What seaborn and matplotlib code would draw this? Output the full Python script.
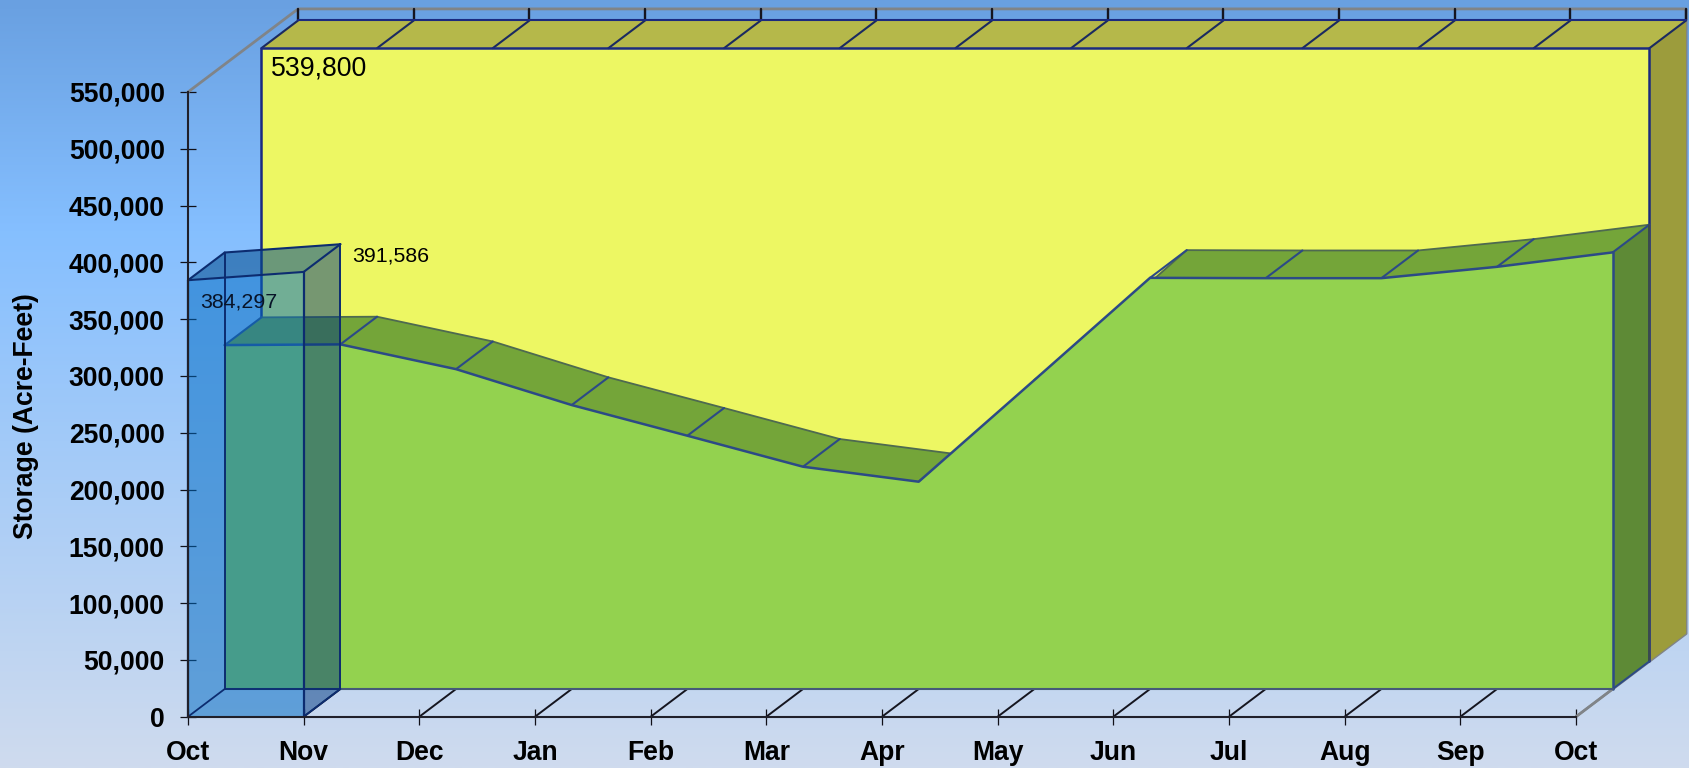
import numpy as np
import matplotlib
matplotlib.use("Agg")
import matplotlib.pyplot as plt
import seaborn as sns

months = ["Oct", "Nov", "Dec", "Jan", "Feb", "Mar", "Apr", "May", "Jun", "Jul", "Aug", "Sep", "Oct"]
storage_curve = [302800, 303400, 281600, 250000, 223000, 195700, 182500, 272000, 362000, 361700, 361700, 371700, 384400]
capacity = [539800] * 13
actual_months = [0, 1]
actual_storage = [384297, 391586]
y_ticks = [0, 50000, 100000, 150000, 200000, 250000, 300000, 350000, 400000, 450000, 500000, 550000]
y_title = "Storage (Acre-Feet)"

W, H = 1690, 768
L, R, B, T = 188.0, 1576.0, 716.7, 92.0
DX = 36.7 / ((R - L) / 12)
DY = 27.7 / ((B - T) / 550000)

sns.set_theme(style="white")
plt.rcParams["font.family"] = ["Liberation Sans", "DejaVu Sans"]

fig = plt.figure(figsize=(W / 100, H / 100), dpi=100)

# gradient backdrop
bg = fig.add_axes([0, 0, 1, 1], zorder=0)
t = np.linspace(0, 1, 256)
stops = [0, 0.3, 1]
grad = np.stack([np.interp(t, stops, [105, 133, 207]),
                 np.interp(t, stops, [160, 191, 219]),
                 np.interp(t, stops, [225, 255, 238])], axis=1)[:, None, :] / 255
bg.imshow(grad, aspect="auto", extent=[0, 1, 0, 1], origin="upper")
bg.axis("off")

ax = fig.add_axes([L / W, 1 - B / H, (R - L) / W, (B - T) / H], zorder=1)
ax.patch.set_alpha(0)

idx = np.arange(len(months), dtype=float)
green = np.array(storage_curve, dtype=float)
cap = np.array(capacity, dtype=float)
top = y_ticks[-1]
NAVY = "#1B2A80"
GLINE = "#2C4A86"
GRAY = "#808488"


def line(xs, ys, color, lw, z=3, alpha=1.0):
    sns.lineplot(x=np.asarray(xs, float), y=np.asarray(ys, float), ax=ax, color=color, linewidth=lw,
                 estimator=None, sort=False, legend=False, clip_on=False, zorder=z, alpha=alpha,
                 solid_capstyle="round", solid_joinstyle="round", errorbar=None)


def face(xs, ys, color, z, alpha=1.0):
    ax.fill(xs, ys, facecolor=color, edgecolor="none", alpha=alpha, zorder=z, clip_on=False)


n = idx[-1]

# outer frame of the 3D box
line([0, 3 * DX, n + 3 * DX, n + 3 * DX, n], [top, top + 3 * DY, top + 3 * DY, 3 * DY, 0], GRAY, 2.0, z=1.5)
for i in idx:
    line([i + 3 * DX] * 2, [cap[0] + 3 * DY, top + 3 * DY], "#15151F", 1.7, z=1.6)

# capacity block (yellow)
face([0 + 2 * DX, n + 2 * DX, n + 3 * DX, 0 + 3 * DX],
     [cap[0] + 2 * DY, cap[0] + 2 * DY, cap[0] + 3 * DY, cap[0] + 3 * DY], "#B5B84A", 1.7)
face([n + 2 * DX, n + 3 * DX, n + 3 * DX, n + 2 * DX],
     [cap[0] + 2 * DY, cap[0] + 3 * DY, 3 * DY, 2 * DY], "#9C9C3C", 1.7)
ax.fill_between(idx + 2 * DX, 2 * DY, cap + 2 * DY, color="#EDF763", lw=0, zorder=1.8, clip_on=False)
for i in idx:
    line([i + 2 * DX, i + 3 * DX], [cap[0] + 2 * DY, cap[0] + 3 * DY], "#1B2A60", 1.5, z=1.9)
line([3 * DX, n + 3 * DX], [cap[0] + 3 * DY, cap[0] + 3 * DY], NAVY, 1.5, z=1.9)
line([2 * DX, 2 * DX, n + 2 * DX, n + 2 * DX], [green[0] + 2 * DY, cap[0] + 2 * DY, cap[0] + 2 * DY, 2 * DY],
     NAVY, 1.8, z=1.9)

# storage curve block (green); the front face hides the band where the curve climbs steeply
face(np.r_[idx + DX, (idx + 2 * DX)[::-1]], np.r_[green + DY, (green + 2 * DY)[::-1]], "#74A539", 2.0)
face([n + DX, n + 2 * DX, n + 2 * DX, n + DX], [green[-1] + DY, green[-1] + 2 * DY, 2 * DY, DY], "#5E8A36", 2.0)
for i in idx:
    line([i + DX, i + 2 * DX], [green[int(i)] + DY, green[int(i)] + 2 * DY], GLINE, 1.5, z=2.02)
line(idx + 2 * DX, green + 2 * DY, "#4E6A50", 1.3, z=2.01)
ax.fill_between(idx + DX, DY, green + DY, color="#93D24F", lw=0, zorder=2.1, clip_on=False)
line(idx + DX, green + DY, GLINE, 1.8, z=2.3)
line([n + DX, n + DX], [DY, green[-1] + DY], GLINE, 1.8, z=2.3)
line([n + 2 * DX, n + 2 * DX], [2 * DY, green[-1] + 2 * DY], "#3A4A50", 1.4, z=2.3)
line([n + DX, n + 2 * DX], [DY, 2 * DY], GLINE, 1.4, z=2.3)
line([DX, n + DX], [DY, DY], "#455A78", 1.5, z=2.3)

# floor dividers
for i in idx[1:-1]:
    line([i, i + DX], [0, DY], "#15151F", 1.4, z=2.0)
line([n, n + DX], [0, DY], GRAY, 1.6, z=2.0)

# actual storage block (blue, translucent)
a_x = np.array(actual_months, float)
a_y = np.array(actual_storage, float)
face(np.r_[a_x, (a_x + DX)[::-1]], np.r_[a_y, (a_y + DY)[::-1]], (0, 75 / 255, 140 / 255), 4.0, alpha=0.55)
face([a_x[1], a_x[1] + DX, a_x[1] + DX, a_x[1]], [a_y[1], a_y[1] + DY, DY, 0], (0, 56 / 255, 128 / 255), 4.0, alpha=0.5)
ax.fill_between(a_x, 0, a_y, color=(0, 107 / 255, 196 / 255), alpha=0.52, lw=0, zorder=4.0, clip_on=False)
BL = "#0C2C70"
for k in (0, 1):
    line([a_x[k], a_x[k] + DX], [a_y[k], a_y[k] + DY], BL, 1.5, z=4.2)
    line([a_x[k], a_x[k] + DX], [0, DY], BL, 1.3, z=4.2)
    line([a_x[k], a_x[k]], [0, a_y[k]], BL, 1.6, z=4.2)
    line([a_x[k] + DX, a_x[k] + DX], [DY, a_y[k] + DY], BL, 1.4, z=4.2)
line(a_x, a_y, BL, 1.5, z=4.2)
line(a_x + DX, a_y + DY, BL, 1.5, z=4.2)
line([DX, a_x[1] + DX], [DY, DY], BL, 1.3, z=4.2)

# axes
ax.set_xlim(0, n)
ax.set_ylim(0, top)
ax.set_xticks(idx, months)
ax.set_yticks(y_ticks, [f"{v:,}" for v in y_ticks])
ax.tick_params(axis="both", direction="inout", length=11.5, width=0.9, color="#101018",
               labelsize=19.1, bottom=True, left=True, zorder=5)
ax.tick_params(axis="y", pad=11)
ax.tick_params(axis="x", pad=11)
for lab in ax.get_xticklabels() + ax.get_yticklabels():
    lab.set_fontweight("bold")
    lab.set_color("black")
ax.set_xlabel("")
ax.set_ylabel("")
sns.despine(ax=ax, top=True, right=True)
for s in ("left", "bottom"):
    ax.spines[s].set_color("#20202A")
    ax.spines[s].set_linewidth(1.5)
    ax.spines[s].set_zorder(5)
ax.grid(False)

fig.text(26 / W, 1 - 416 / H, y_title, rotation=90, ha="center", va="center", fontsize=19.1, fontweight="bold",
         color="black", zorder=10)

# value labels, anchored to the data through the block offsets
ax.annotate(f"{capacity[0]:,}", xy=(2 * DX, cap[0] + 2 * DY), xytext=(10, -20), textcoords="offset pixels",
            fontsize=19.2, color="black", va="center", ha="left", zorder=6, annotation_clip=False)
ax.annotate(f"{actual_storage[1]:,}", xy=(a_x[1] + DX, a_y[1] + DY), xytext=(12, -12), textcoords="offset pixels",
            fontsize=15.4, color="black", va="center", ha="left", zorder=6, annotation_clip=False)
ax.annotate(f"{actual_storage[0]:,}", xy=(a_x[0], a_y[0]), xytext=(12, -22), textcoords="offset pixels",
            fontsize=15.4, color="#081428", va="center", ha="left", zorder=4.5, annotation_clip=False)

fig.savefig("out.png", dpi=100)
